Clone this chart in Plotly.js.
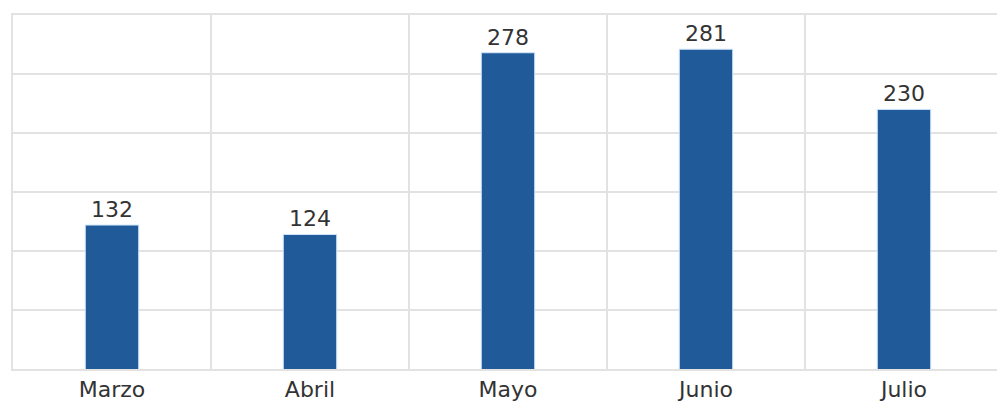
<!DOCTYPE html>
<html>
<head>
<meta charset="utf-8">
<script src="https://cdn.plot.ly/plotly-3.0.1.min.js"></script>
<style>
html,body{margin:0;padding:0;overflow:hidden;background:#fff;}
#chart{width:1005px;height:401px;}
</style>
</head>
<body>
<div id="chart"></div>
<script>
var months = ["Marzo", "Abril", "Mayo", "Junio", "Julio"];
var values = [132, 124, 278, 281, 230];

var trace = {
  type: "bar",
  x: months,
  y: values,
  text: values.map(String),
  textposition: "outside",
  cliponaxis: false,
  textfont: {family: "DejaVu Sans, sans-serif", size: 22, color: "#333"},
  marker: {color: "#205a99", line: {color: "#cfe6fb", width: 1}},
  hoverinfo: "none"
};

var layout = {
  width: 1005,
  height: 401,
  margin: {l: 13, r: 2, t: 15, b: 32},
  paper_bgcolor: "#fff",
  plot_bgcolor: "#fff",
  bargap: 0.73,
  showlegend: false,
  font: {family: "DejaVu Sans, sans-serif", color: "#333"},
  xaxis: {
    type: "category",
    tickson: "boundaries",
    showgrid: true,
    gridcolor: "#e2e2e2",
    gridwidth: 2,
    showline: true,
    mirror: true,
    linecolor: "#e2e2e2",
    linewidth: 2,
    ticks: "",
    tickfont: {family: "DejaVu Sans, sans-serif", size: 22, color: "#333"},
    fixedrange: true
  },
  yaxis: {
    range: [10, 310],
    tick0: 10,
    dtick: 50,
    showgrid: true,
    gridcolor: "#e2e2e2",
    gridwidth: 2,
    showline: true,
    mirror: true,
    linecolor: "#e2e2e2",
    linewidth: 2,
    zeroline: false,
    showticklabels: false,
    ticks: "",
    fixedrange: true
  }
};

Plotly.newPlot("chart", [trace], layout, {displayModeBar: false, staticPlot: true});
</script>
</body>
</html>
